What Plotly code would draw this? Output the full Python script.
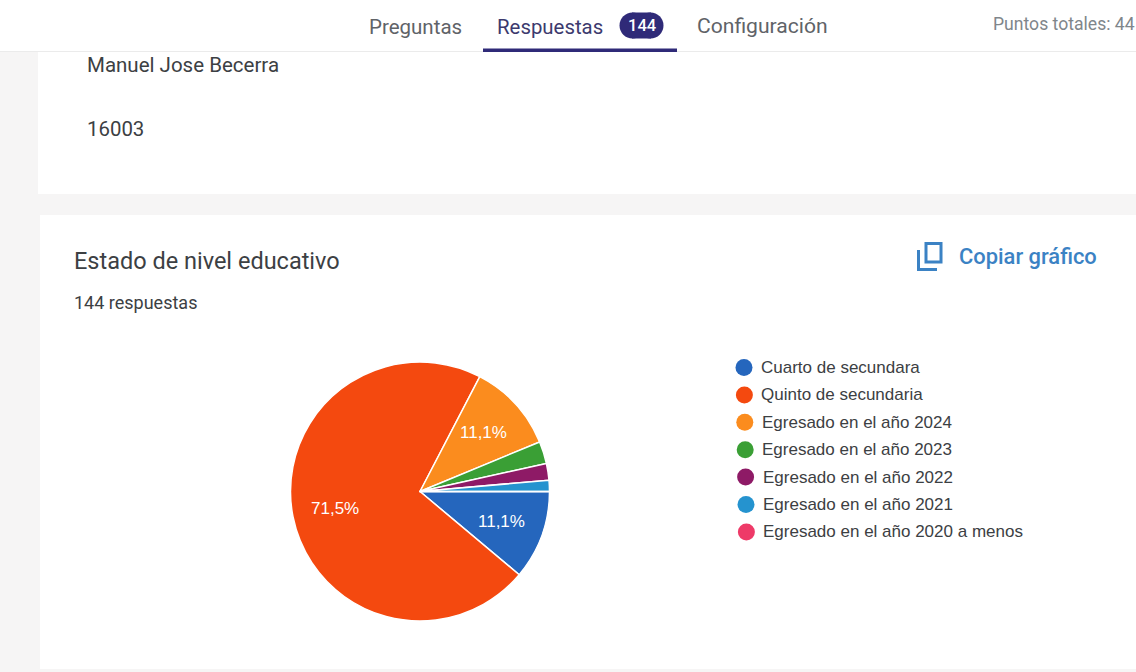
import math
import plotly.graph_objects as go

categories = ["Cuarto de secundara", "Quinto de secundaria", "Egresado en el año 2024",
              "Egresado en el año 2023", "Egresado en el año 2022", "Egresado en el año 2021",
              "Egresado en el año 2020 a menos"]
responses = [16, 103, 16, 4, 3, 2, 0]
colors = ["#2566bd", "#f4490f", "#fb8c1e", "#3a9f35", "#8e1a66", "#2593cf", "#ee3a68"]

W, H = 1136, 672
PAGE = "#f6f5f5"
NAVY = "#2f2a78"
BLUE = "#3b82c4"
cx, cy, r = 420, 491.5, 129.5

fig = go.Figure(go.Pie(
    labels=categories, values=responses, sort=False, direction="clockwise", rotation=90,
    marker=dict(colors=colors, line=dict(color="white", width=1.5)),
    textinfo="none",
    domain=dict(x=[(cx - r) / W, (cx + r) / W], y=[1 - (cy + r) / H, 1 - (cy - r) / H]),
    showlegend=False, hoverinfo="label+percent",
))


def rect(x0, y0, x1, y1, color, layer="below"):
    return dict(type="rect", xref="paper", yref="paper", x0=x0 / W, x1=x1 / W,
                y0=1 - y0 / H, y1=1 - y1 / H, fillcolor=color, line_width=0, layer=layer)


def disc(x, y, rad, color):
    return dict(type="circle", xref="paper", yref="paper", x0=(x - rad) / W, x1=(x + rad) / W,
                y0=1 - (y + rad) / H, y1=1 - (y - rad) / H, fillcolor=color, line_width=0)


def text(x, y, s, size, color, anchor="left", font="Roboto", weight="normal"):
    return dict(xref="paper", yref="paper", x=x / W, y=1 - y / H, text=s, showarrow=False,
                xanchor=anchor, yanchor="middle", align="left",
                font=dict(family=font, size=size, color=color, weight=weight))


shapes = [
    rect(0, 0, W, H, PAGE),
    rect(0, 0, W, 52, "#ffffff"),
    rect(38, 52, W, 194, "#ffffff"),
    rect(40, 215, W, 669, "#ffffff"),
    rect(0, 51, W, 52, "#ebebeb"),
    rect(483, 48.5, 677, 52, NAVY),
    rect(632, 12.5, 651, 38.5, NAVY, "above"),
    disc(632.5, 25.5, 13, NAVY),
    disc(650.5, 25.5, 13, NAVY),
    dict(type="path", xref="paper", yref="paper", line=dict(color=BLUE, width=3),
         path=f"M {926/W} {1-243.5/H} H {941/W} V {1-262/H} H {926/W} Z "
              f"M {918.5/W} {1-250/H} V {1-269.5/H} H {937/W}"),
]

annotations = [
    text(367, 27, "Preguntas", 20.5, "#5f6368"),
    text(495, 27, "Respuestas", 20.4, "#3c3a6e"),
    text(641.5, 26, "144", 16.5, "#ffffff", "center", weight=500),
    text(695, 26, "Configuración", 21.1, "#5f6368"),
    text(991, 24, "Puntos totales: 44", 17.6, "#80868b"),
    text(85, 65, "Manuel Jose Becerra", 20.5, "#3c4043"),
    text(85, 129, "16003", 20.4, "#3c4043"),
    text(72, 261, "Estado de nivel educativo", 23.5, "#3c4043"),
    text(72, 302, "144 respuestas", 18, "#3c4043"),
    text(957, 256, "Copiar gráfico", 21.9, BLUE, weight=500),
]

# Percentage labels on the bisector of every slice of at least 5 %
total = sum(responses)
angle = 0.0
for value in responses:
    share = value / total
    mid = math.radians((angle + share / 2) * 360)
    angle += share
    if share >= 0.05:
        label = f"{share * 100:.1f}%".replace(".", ",")
        annotations.append(text(cx + 0.67 * r * math.cos(mid), cy + 0.67 * r * math.sin(mid), label,
                                17, "#ffffff", "center", font="Liberation Sans"))

# Legend: one circle and one label per category
for i, (name, color) in enumerate(zip(categories, colors)):
    ly = 367.5 + i * 27.4
    lx = 744 + i * 0.4
    shapes.append(disc(lx, ly, 8.5, color))
    annotations.append(text(lx + 15, ly, name, 17, "#3c4043", font="Liberation Sans"))

fig.update_layout(width=W, height=H, margin=dict(l=0, r=0, t=0, b=0), separators=",.",
                  paper_bgcolor="#ffffff", plot_bgcolor="#ffffff",
                  shapes=shapes, annotations=annotations, showlegend=False)
fig.write_html("out.html", config=dict(displayModeBar=False),
               post_script="document.body.style.margin='0';document.body.style.overflow='hidden';")
